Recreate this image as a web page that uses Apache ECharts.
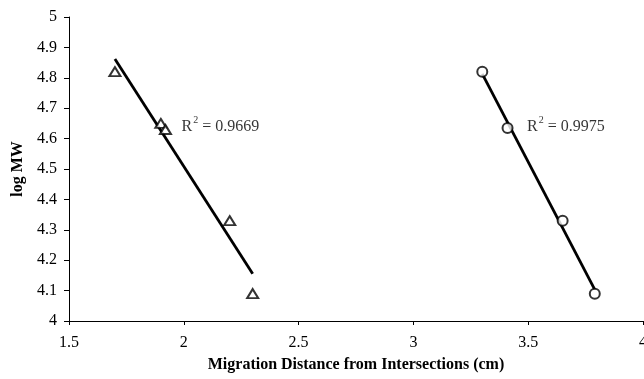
<!DOCTYPE html>
<html>
<head>
<meta charset="utf-8">
<script src="https://cdn.jsdelivr.net/npm/echarts@6/dist/echarts.min.js"></script>
<style>html,body{margin:0;padding:0;background:#fff}#c{width:644px;height:379px}</style>
</head>
<body>
<div id="c"></div>
<script>
// Series A (triangles)
const triX = [1.70, 1.90, 1.92, 2.20, 2.30];
const triY = [4.82, 4.65, 4.63, 4.33, 4.09];
// Series B (circles)
const cirX = [3.30, 3.41, 3.65, 3.79];
const cirY = [4.82, 4.635, 4.33, 4.09];
// R² labels
const r2Labels = ['0.9669', '0.9975'];
const r2Pos = [[1.99, 4.645], [3.495, 4.645]];
// Axis ticks
const xTicks = [1.5, 2, 2.5, 3, 3.5, 4];
const yTicks = [4, 4.1, 4.2, 4.3, 4.4, 4.5, 4.6, 4.7, 4.8, 4.9, 5];

function fit(xs, ys) {
  const n = xs.length;
  const mx = xs.reduce((a, b) => a + b, 0) / n;
  const my = ys.reduce((a, b) => a + b, 0) / n;
  let sxy = 0, sxx = 0;
  for (let i = 0; i < n; i++) { sxy += (xs[i] - mx) * (ys[i] - my); sxx += (xs[i] - mx) ** 2; }
  const b = sxy / sxx, a = my - b * mx;
  const x0 = Math.min(...xs), x1 = Math.max(...xs);
  return [[x0, a + b * x0], [x1, a + b * x1]];
}
const zip = (xs, ys) => xs.map((x, i) => [x, ys[i]]);
const font = 'Liberation Serif';

const chart = echarts.init(document.getElementById('c'));
chart.setOption({
  animation: false,
  grid: { left: 69, right: 1, top: 17, bottom: 58, containLabel: false, outerBoundsMode: 'none' },
  xAxis: {
    type: 'value', min: 1.5, max: 4, interval: 0.5,
    name: 'Migration Distance from Intersections (cm)',
    nameLocation: 'middle', nameGap: 36,
    nameTextStyle: { fontFamily: font, fontWeight: 'bold', fontSize: 16, color: '#000' },
    axisLine: { show: true, lineStyle: { color: '#000', width: 1 } },
    axisTick: { show: true, length: 4, lineStyle: { color: '#000' } },
    axisLabel: { fontFamily: font, fontSize: 16, color: '#000', margin: 14, hideOverlap: false,
      showMinLabel: true, showMaxLabel: true,
      formatter: v => (xTicks.includes(v) ? String(v) : '') },
    splitLine: { show: false }
  },
  yAxis: {
    type: 'value', min: 4, max: 5, interval: 0.1,
    name: 'log MW', nameLocation: 'middle', nameGap: 42,
    nameTextStyle: { fontFamily: font, fontWeight: 'bold', fontSize: 16, color: '#000' },
    axisLine: { show: true, lineStyle: { color: '#000', width: 1 } },
    axisTick: { show: true, length: 5, lineStyle: { color: '#000' } },
    axisLabel: { fontFamily: font, fontSize: 16, color: '#000', margin: 12,
      formatter: v => { const t = yTicks.find(k => Math.abs(k - v) < 1e-6); return t === undefined ? '' : String(t); } },
    splitLine: { show: false }
  },
  series: [
    { type: 'line', data: fit(triX, triY), symbol: 'none', lineStyle: { color: '#000', width: 2.8 }, z: 2 },
    { type: 'line', data: fit(cirX, cirY), symbol: 'none', lineStyle: { color: '#000', width: 2.8 }, z: 2 },
    { type: 'scatter', data: zip(triX, triY), symbol: 'triangle', symbolSize: [11, 9],
      itemStyle: { color: '#fff', borderColor: '#000', borderWidth: 2 }, z: 3 },
    { type: 'scatter', data: zip(cirX, cirY), symbol: 'circle', symbolSize: 10,
      itemStyle: { color: '#fff', borderColor: '#000', borderWidth: 2 }, z: 3 },
    { type: 'scatter', data: r2Pos.map((p, i) => ({ value: p, name: r2Labels[i] })), symbolSize: 0, silent: true,
      label: { show: true, position: 'right', distance: 0,
        formatter: p => '{r|R}{s|2}{r| = ' + p.name + '}',
        rich: { r: { fontFamily: font, fontSize: 16, color: '#000', lineHeight: 20, verticalAlign: 'bottom' },
                s: { fontFamily: font, fontSize: 10, color: '#000', lineHeight: 12, verticalAlign: 'top', padding: [0, 0, 0, 1] } } }, z: 4 }
  ]
});
</script>
</body>
</html>
